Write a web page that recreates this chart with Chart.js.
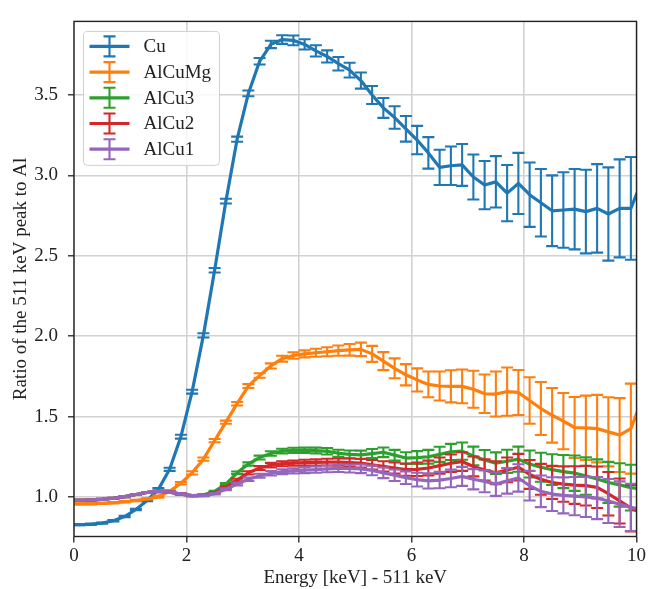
<!DOCTYPE html>
<html>
<head>
<meta charset="utf-8">
<title>511 keV peak ratio</title>
<script src="https://cdn.jsdelivr.net/npm/chart.js@4.4.1/dist/chart.umd.min.js"></script>
<style>
  html, body { margin: 0; padding: 0; background: #fff; }
  #wrap { width: 648px; height: 589px; }
</style>
</head>
<body>
<div id="wrap"><canvas id="ratioChart" width="648" height="589"></canvas></div>
<script>
// bin centres in keV above 511 keV (first and last bins sit just outside the axis)
const energy = [-0.1, 0.1, 0.3, 0.5, 0.7, 0.9, 1.1, 1.3, 1.5, 1.7, 1.9, 2.1, 2.3, 2.5, 2.7, 2.9,
  3.1, 3.3, 3.5, 3.7, 3.9, 4.1, 4.3, 4.5, 4.7, 4.9, 5.1, 5.3, 5.5, 5.7, 5.9, 6.1, 6.3, 6.5, 6.7, 6.9,
  7.1, 7.3, 7.5, 7.7, 7.9, 8.1, 8.3, 8.5, 8.7, 8.9, 9.1, 9.3, 9.5, 9.7, 9.9, 10.1];

const sampleNames = ['Cu', 'AlCuMg', 'AlCu3', 'AlCu2', 'AlCu1'];
const sampleColors = ['#1f77b4', '#ff7f0e', '#2ca02c', '#d62728', '#9467bd'];

const cu = [0.828, 0.828, 0.830, 0.837, 0.852, 0.878, 0.922, 0.978, 1.047, 1.172, 1.375, 1.655, 2.005,
  2.41, 2.84, 3.225, 3.51, 3.71, 3.815, 3.845, 3.84, 3.815, 3.775, 3.74, 3.695, 3.655, 3.59, 3.50, 3.42,
  3.36, 3.29, 3.22, 3.14, 3.05, 3.06, 3.065, 2.99, 2.94, 2.96, 2.89, 2.95, 2.88, 2.83, 2.78, 2.785, 2.79,
  2.775, 2.795, 2.76, 2.795, 2.795, 2.97];
const cuErr = [0.004, 0.004, 0.004, 0.004, 0.004, 0.004, 0.004, 0.004, 0.008, 0.010, 0.012, 0.012, 0.013,
  0.014, 0.015, 0.016, 0.018, 0.020, 0.023, 0.027, 0.030, 0.032, 0.035, 0.038, 0.042, 0.046, 0.050, 0.056,
  0.062, 0.070, 0.080, 0.088, 0.098, 0.110, 0.120, 0.130, 0.140, 0.150, 0.160, 0.175, 0.190, 0.200, 0.210,
  0.220, 0.235, 0.250, 0.260, 0.275, 0.290, 0.305, 0.320, 0.340];

const alcumg = [0.956, 0.957, 0.958, 0.960, 0.964, 0.970, 0.978, 0.988, 1.002, 1.035, 1.085, 1.15, 1.235,
  1.35, 1.465, 1.58, 1.69, 1.755, 1.815, 1.86, 1.88, 1.89, 1.897, 1.903, 1.91, 1.915, 1.918, 1.89, 1.845,
  1.80, 1.76, 1.728, 1.70, 1.69, 1.688, 1.688, 1.67, 1.642, 1.64, 1.655, 1.65, 1.60, 1.55, 1.508, 1.472,
  1.432, 1.43, 1.425, 1.405, 1.385, 1.425, 1.61];
const alcumgErr = [0.004, 0.004, 0.004, 0.004, 0.004, 0.004, 0.004, 0.004, 0.006, 0.008, 0.008, 0.010,
  0.010, 0.010, 0.010, 0.011, 0.012, 0.014, 0.016, 0.018, 0.020, 0.022, 0.025, 0.028, 0.032, 0.036, 0.042,
  0.050, 0.056, 0.062, 0.066, 0.072, 0.080, 0.090, 0.100, 0.105, 0.115, 0.120, 0.140, 0.150, 0.140, 0.145,
  0.165, 0.170, 0.175, 0.190, 0.200, 0.210, 0.215, 0.230, 0.280, 0.300];

const alcu3 = [0.978, 0.979, 0.981, 0.985, 0.992, 1.002, 1.015, 1.028, 1.035, 1.030, 1.018, 1.008, 1.012,
  1.035, 1.08, 1.15, 1.205, 1.245, 1.27, 1.285, 1.29, 1.29, 1.289, 1.284, 1.272, 1.265, 1.262, 1.27, 1.278,
  1.26, 1.242, 1.245, 1.25, 1.265, 1.28, 1.285, 1.255, 1.23, 1.21, 1.222, 1.235, 1.205, 1.185, 1.17, 1.158,
  1.148, 1.13, 1.112, 1.09, 1.075, 1.058, 1.05];
const alcu3Err = [0.003, 0.003, 0.003, 0.003, 0.003, 0.003, 0.003, 0.003, 0.003, 0.004, 0.004, 0.004,
  0.004, 0.004, 0.006, 0.008, 0.010, 0.012, 0.014, 0.015, 0.016, 0.017, 0.018, 0.020, 0.022, 0.024, 0.026,
  0.028, 0.030, 0.033, 0.036, 0.040, 0.043, 0.047, 0.050, 0.054, 0.058, 0.062, 0.067, 0.072, 0.078, 0.084,
  0.090, 0.096, 0.103, 0.110, 0.116, 0.122, 0.128, 0.135, 0.142, 0.150];

const alcu2 = [0.978, 0.979, 0.981, 0.985, 0.992, 1.002, 1.015, 1.028, 1.035, 1.030, 1.018, 1.008, 1.010,
  1.025, 1.06, 1.105, 1.15, 1.18, 1.198, 1.206, 1.21, 1.213, 1.215, 1.217, 1.217, 1.214, 1.21, 1.20, 1.19,
  1.18, 1.17, 1.172, 1.18, 1.195, 1.21, 1.22, 1.19, 1.168, 1.15, 1.168, 1.185, 1.14, 1.11, 1.09, 1.08,
  1.074, 1.07, 1.06, 1.02, 0.975, 0.93, 0.90];
const alcu2Err = [0.003, 0.003, 0.003, 0.003, 0.003, 0.003, 0.003, 0.003, 0.003, 0.004, 0.004, 0.004,
  0.004, 0.004, 0.006, 0.008, 0.010, 0.012, 0.014, 0.015, 0.016, 0.018, 0.019, 0.021, 0.023, 0.025, 0.027,
  0.030, 0.032, 0.035, 0.038, 0.042, 0.046, 0.050, 0.054, 0.058, 0.062, 0.066, 0.071, 0.077, 0.083, 0.090,
  0.096, 0.103, 0.110, 0.117, 0.123, 0.129, 0.135, 0.140, 0.145, 0.150];

const alcu1 = [0.978, 0.979, 0.981, 0.985, 0.992, 1.002, 1.015, 1.028, 1.035, 1.030, 1.018, 1.008, 1.008,
  1.02, 1.048, 1.08, 1.11, 1.132, 1.147, 1.157, 1.162, 1.166, 1.17, 1.175, 1.178, 1.177, 1.175, 1.165, 1.15,
  1.135, 1.12, 1.108, 1.10, 1.105, 1.115, 1.128, 1.11, 1.097, 1.08, 1.10, 1.118, 1.07, 1.035, 1.018, 1.01,
  1.005, 1.00, 0.993, 0.975, 0.955, 0.935, 0.92];
const alcu1Err = [0.003, 0.003, 0.003, 0.003, 0.003, 0.003, 0.003, 0.003, 0.003, 0.004, 0.004, 0.004,
  0.004, 0.004, 0.006, 0.008, 0.010, 0.012, 0.014, 0.015, 0.016, 0.018, 0.019, 0.021, 0.023, 0.025, 0.027,
  0.030, 0.033, 0.036, 0.039, 0.043, 0.047, 0.051, 0.055, 0.059, 0.063, 0.068, 0.073, 0.079, 0.085, 0.092,
  0.098, 0.105, 0.112, 0.119, 0.125, 0.131, 0.137, 0.142, 0.147, 0.152];

const yTicks = [1.0, 1.5, 2.0, 2.5, 3.0, 3.5];
const xTicks = [0, 2, 4, 6, 8, 10];

const seriesValues = [cu, alcumg, alcu3, alcu2, alcu1];
const seriesErrors = [cuErr, alcumgErr, alcu3Err, alcu2Err, alcu1Err];

const SERIF = "'Liberation Serif', 'DejaVu Serif', serif";
const FONT_SIZE = 19;
const INK = '#222';
const CAP = 6;

// vertical error bars with caps, drawn right after each line so later samples sit on top
const errorBars = {
  id: 'errorBars',
  afterDatasetDraw(chart, args) {
    const ds = chart.data.datasets[args.index];
    if (!ds.errors) return;
    const { ctx, chartArea: a } = chart;
    const ys = chart.scales.y;
    ctx.save();
    ctx.beginPath();
    ctx.rect(a.left, a.top, a.right - a.left, a.bottom - a.top);
    ctx.clip();
    ctx.strokeStyle = ds.borderColor;
    ctx.lineWidth = 2.1;
    args.meta.data.forEach((pt, i) => {
      const v = ds.data[i].y, e = ds.errors[i];
      const top = ys.getPixelForValue(v + e);
      const bot = ys.getPixelForValue(v - e);
      ctx.beginPath();
      ctx.moveTo(pt.x, top); ctx.lineTo(pt.x, bot);
      ctx.moveTo(pt.x - CAP, top); ctx.lineTo(pt.x + CAP, top);
      ctx.moveTo(pt.x - CAP, bot); ctx.lineTo(pt.x + CAP, bot);
      ctx.stroke();
    });
    ctx.restore();
  }
};

// axes frame on all four sides plus the boxed legend in the upper left
const frameAndLegend = {
  id: 'frameAndLegend',
  afterDraw(chart) {
    const { ctx, chartArea: a } = chart;
    ctx.save();
    ctx.strokeStyle = INK;
    ctx.lineWidth = 1.4;
    ctx.strokeRect(a.left, a.top, a.right - a.left, a.bottom - a.top);

    const bx = a.left + 9.5, by = a.top + 10, bw = 136, bh = 134;
    ctx.beginPath();
    ctx.roundRect(bx, by, bw, bh, 4);
    ctx.fillStyle = 'rgba(255,255,255,0.85)';
    ctx.fill();
    ctx.strokeStyle = '#d0d0d0';
    ctx.lineWidth = 1;
    ctx.stroke();

    ctx.font = FONT_SIZE + 'px ' + SERIF;
    ctx.textBaseline = 'middle';
    chart.data.datasets.forEach((ds, i) => {
      const ry = by + 15 + i * 25.7;
      const x0 = bx + 6, x1 = bx + 46, xm = (x0 + x1) / 2;
      ctx.strokeStyle = ds.borderColor;
      ctx.lineWidth = 3.2;
      ctx.beginPath();
      ctx.moveTo(x0, ry); ctx.lineTo(x1, ry);
      ctx.stroke();
      ctx.lineWidth = 2.1;
      ctx.beginPath();
      ctx.moveTo(xm, ry - 10); ctx.lineTo(xm, ry + 10);
      ctx.moveTo(xm - CAP, ry - 10); ctx.lineTo(xm + CAP, ry - 10);
      ctx.moveTo(xm - CAP, ry + 10); ctx.lineTo(xm + CAP, ry + 10);
      ctx.stroke();
      ctx.fillStyle = INK;
      ctx.fillText(ds.label, bx + 60, ry + 1);
    });
    ctx.restore();
  }
};

const datasets = sampleNames.map((name, k) => ({
  label: name,
  data: energy.map((e, i) => ({ x: e, y: seriesValues[k][i] })),
  errors: seriesErrors[k],
  borderColor: sampleColors[k],
  backgroundColor: sampleColors[k],
  borderWidth: 3.2,
  borderJoinStyle: 'round',
  pointRadius: 0,
  pointHoverRadius: 0,
  tension: 0,
  clip: 0,
  order: sampleNames.length - k
}));

const tickFont = { family: SERIF, size: FONT_SIZE };

new Chart(document.getElementById('ratioChart').getContext('2d'), {
  type: 'line',
  data: { datasets },
  options: {
    responsive: false,
    animation: false,
    devicePixelRatio: 1,
    layout: { padding: { top: 15.5, right: 11, bottom: 0, left: 0 } },
    plugins: {
      legend: { display: false },
      tooltip: { enabled: false }
    },
    scales: {
      x: {
        type: 'linear',
        min: xTicks[0],
        max: xTicks[xTicks.length - 1],
        afterBuildTicks: s => { s.ticks = xTicks.map(v => ({ value: v })); },
        ticks: {
          color: INK,
          font: tickFont,
          padding: 2,
          maxRotation: 0,
          callback: v => String(v)
        },
        grid: { color: '#d2d2d2', lineWidth: 1.6, tickColor: INK, tickLength: 6, tickWidth: 1.3 },
        border: { display: false },
        title: {
          display: true,
          text: 'Energy [keV] - 511 keV',
          color: INK,
          font: tickFont,
          padding: { top: 0, bottom: 0 }
        },
        afterFit: s => { s.height = 52.5; }
      },
      y: {
        type: 'linear',
        min: 0.754,
        max: 3.958,
        afterBuildTicks: s => { s.ticks = yTicks.map(v => ({ value: v })); },
        ticks: {
          color: INK,
          font: tickFont,
          padding: 10,
          callback: v => Number(v).toFixed(1)
        },
        grid: { color: '#d2d2d2', lineWidth: 1.6, tickColor: INK, tickLength: 6, tickWidth: 1.3 },
        border: { display: false },
        title: {
          display: true,
          text: 'Ratio of the 511 keV peak to Al',
          color: INK,
          font: tickFont,
          padding: { top: 10, bottom: 0 }
        },
        afterFit: s => { s.width = 74; }
      }
    }
  },
  plugins: [errorBars, frameAndLegend]
});
</script>
</body>
</html>
